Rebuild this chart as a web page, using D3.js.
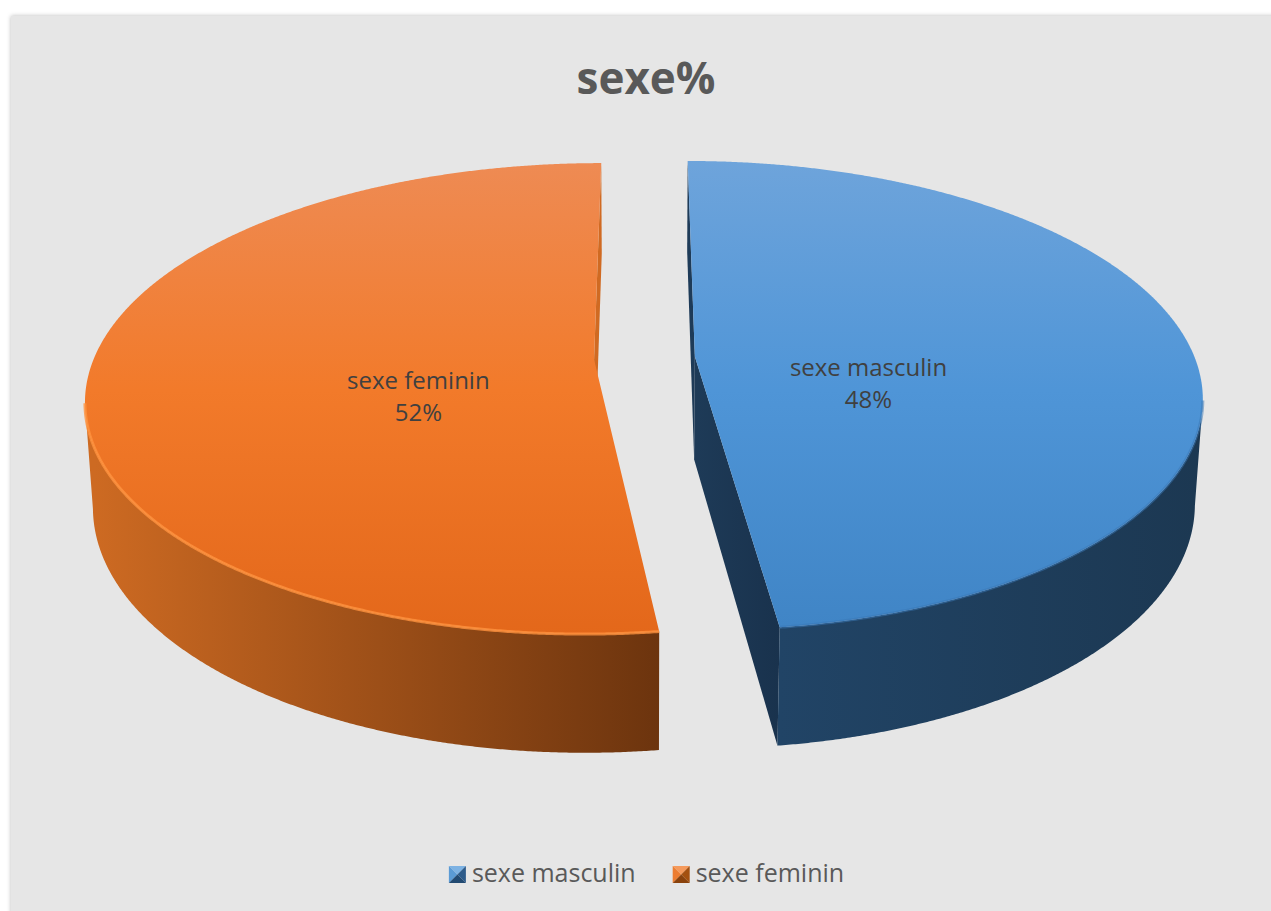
<!DOCTYPE html>
<html>
<head>
<meta charset="utf-8">
<script src="https://cdn.jsdelivr.net/npm/d3@7"></script>
<style>
  body { margin: 0; background: #fff; }
  svg { display: block; }
</style>
</head>
<body>
<div id="chart"></div>
<script>
// data
const categories = ['sexe masculin', 'sexe feminin'];
const values = [48, 52];
const percentLabels = ['48%', '52%'];
const chartTitle = 'sexe%';

const w = 1271, h = 911;

// 3d look: a simple perspective projection of a disc of radius 1
const cx = 644.5, cy = 358;
const A = 500, B = 228.5, H = 104.4;
const k = 0.166, m = 0.014;
const explode = 0.101;

const project = (X, Z, Y) => {
    const d = 1 + k * Z + m * Y;
    return [cx + A * X / d, cy - B * Z / d + H * Y / d];
};

const color = d3.scaleOrdinal().domain(categories).range(['blue', 'orange']);

const palette = {
    blue:   { topA: '#6ea4db', topB: '#4f95d7', topC: '#3f84c5', sideA: '#214466', sideB: '#1c3852', cut: '#1e3b58', cutDark: '#19324d',
              mk: ['#7db2e3', '#5b9bd5', '#2d5b8a', '#224a72'] },
    orange: { topA: '#ee8b54', topB: '#f27a2a', topC: '#e3671a', sideA: '#cd6a22', sideB: '#6c340e', cut: '#d06a22', cutDark: '#b95d1c',
              mk: ['#f59a5c', '#ed7d31', '#a4500f', '#8a420c'] }
};

const pie = d3.pie().sort(null).value(d => d).startAngle(0).endAngle(2 * Math.PI);
const arcs = pie(values);

const svg = d3.select('#chart').append('svg')
    .attr('width', w)
    .attr('height', h);

const defs = svg.append('defs');

const shadow = defs.append('filter').attr('id', 'areaShadow')
    .attr('x', '-5%').attr('y', '-5%').attr('width', '110%').attr('height', '110%');
shadow.append('feDropShadow')
    .attr('dx', 0).attr('dy', 0).attr('stdDeviation', 2.2)
    .attr('flood-color', '#000').attr('flood-opacity', 0.28);

Object.keys(palette).forEach(key => {
    const p = palette[key];
    const gTop = defs.append('linearGradient').attr('id', 'top-' + key)
        .attr('gradientUnits', 'userSpaceOnUse')
        .attr('x1', 0).attr('y1', 160).attr('x2', 0).attr('y2', 640);
    gTop.append('stop').attr('offset', '0%').attr('stop-color', p.topA);
    gTop.append('stop').attr('offset', '48%').attr('stop-color', p.topB);
    gTop.append('stop').attr('offset', '100%').attr('stop-color', p.topC);

    const gSide = defs.append('linearGradient').attr('id', 'side-' + key)
        .attr('gradientUnits', 'userSpaceOnUse')
        .attr('x1', key === 'orange' ? 95 : 780).attr('y1', 0)
        .attr('x2', key === 'orange' ? 662 : 1200).attr('y2', 0);
    gSide.append('stop').attr('offset', '0%').attr('stop-color', p.sideA);
    gSide.append('stop').attr('offset', '100%').attr('stop-color', p.sideB);

    const gCut = defs.append('linearGradient').attr('id', 'cut-' + key)
        .attr('gradientUnits', 'userSpaceOnUse')
        .attr('x1', 690).attr('y1', 0).attr('x2', 780).attr('y2', 0);
    gCut.append('stop').attr('offset', '0%').attr('stop-color', p.cut);
    gCut.append('stop').attr('offset', '100%').attr('stop-color', p.cutDark);
});

// chart area
svg.append('rect')
    .attr('x', 11).attr('y', 16)
    .attr('width', 1400).attr('height', 1100)
    .attr('fill', '#e6e6e6')
    .attr('filter', 'url(#areaShadow)');

svg.append('text')
    .attr('x', 646).attr('y', 94)
    .attr('text-anchor', 'middle')
    .attr('font-family', 'Open Sans')
    .attr('font-weight', 'bold')
    .attr('font-size', 44)
    .attr('fill', '#595959')
    .text(chartTitle);

const line = d3.line();
const camera = [0, -1 / k];
const step = Math.PI / 720;

const sliceG = svg.append('g').attr('class', 'pie');

arcs.forEach((a, i) => {
    const key = color(categories[i]);
    const mid = (a.startAngle + a.endAngle) / 2;
    const ex = explode * Math.sin(mid), ez = explode * Math.cos(mid);
    const rim = (t, Y) => project(ex + Math.sin(t), ez + Math.cos(t), Y);
    const apex = Y => project(ex, ez, Y);

    const angles = d3.range(a.startAngle, a.endAngle, step).concat([a.endAngle]);
    const g = sliceG.append('g');

    // radial cut faces
    const cuts = [
        { t: a.startAngle, n: [-Math.cos(a.startAngle), Math.sin(a.startAngle)] },
        { t: a.endAngle, n: [Math.cos(a.endAngle), -Math.sin(a.endAngle)] }
    ];
    cuts.forEach(c => {
        const vis = c.n[0] * (camera[0] - ex) + c.n[1] * (camera[1] - ez);
        if (vis <= 0) return;
        g.append('path')
            .attr('d', line([apex(0), rim(c.t, 0), rim(c.t, 1), apex(1)]) + 'Z')
            .attr('fill', key === 'blue' ? 'url(#cut-blue)' : palette[key].cut);
    });

    // outer side, only the part turned to the camera
    const visible = angles.filter(t => {
        const px = ex + Math.sin(t), pz = ez + Math.cos(t);
        return Math.sin(t) * (camera[0] - px) + Math.cos(t) * (camera[1] - pz) > 0;
    });
    if (visible.length > 1) {
        const pts = visible.map(t => rim(t, 0))
            .concat(visible.slice().reverse().map(t => rim(t, 1)));
        g.append('path')
            .attr('d', line(pts) + 'Z')
            .attr('fill', 'url(#side-' + key + ')');
    }

    // top face
    const topPts = [apex(0)].concat(angles.map(t => rim(t, 0)));
    g.append('path')
        .attr('d', line(topPts) + 'Z')
        .attr('fill', 'url(#top-' + key + ')');

    // rim highlight on the front edge
    if (visible.length > 1) {
        g.append('path')
            .attr('d', line(visible.map(t => rim(t, 0))))
            .attr('fill', 'none')
            .attr('stroke', key === 'orange' ? '#ff923f' : '#3a78b6')
            .attr('stroke-width', 3)
            .attr('stroke-opacity', key === 'orange' ? 0.8 : 0.5);
    }

    // data label
    const r = 0.35;
    const lp = project(ex + r * Math.sin(mid), ez + r * Math.cos(mid), 0);
    const lab = g.append('text')
        .attr('text-anchor', 'middle')
        .attr('font-family', 'Open Sans')
        .attr('font-size', 24)
        .attr('fill', '#404040');
    lab.append('tspan').attr('x', lp[0]).attr('y', lp[1] + 24).text(categories[i]);
    lab.append('tspan').attr('x', lp[0]).attr('y', lp[1] + 56).text(percentLabels[i]);
});

// legend
const legend = svg.append('g').attr('class', 'legend');
const mk = 17, gapText = 6, gapItem = 37, legendY = 866;
const items = categories.map((c, i) => {
    const t = legend.append('text')
        .attr('y', legendY + 16)
        .attr('font-family', 'Open Sans')
        .attr('font-size', 25)
        .attr('fill', '#595959')
        .text(c);
    return { c, t, wd: t.node().getComputedTextLength() };
});
const total = d3.sum(items, d => mk + gapText + d.wd) + gapItem * (items.length - 1);
let xPos = 646.5 - total / 2;
items.forEach(it => {
    const p = palette[color(it.c)].mk;
    const x = xPos, y = legendY, c0 = [x + mk / 2, y + mk / 2];
    const tris = [
        [[x, y], [x + mk, y], c0],
        [[x, y], [x, y + mk], c0],
        [[x + mk, y], [x + mk, y + mk], c0],
        [[x, y + mk], [x + mk, y + mk], c0]
    ];
    tris.forEach((tr, j) => {
        legend.append('path').attr('d', line(tr) + 'Z').attr('fill', p[j]);
    });
    it.t.attr('x', x + mk + gapText);
    xPos += mk + gapText + it.wd + gapItem;
});
</script>
</body>
</html>
